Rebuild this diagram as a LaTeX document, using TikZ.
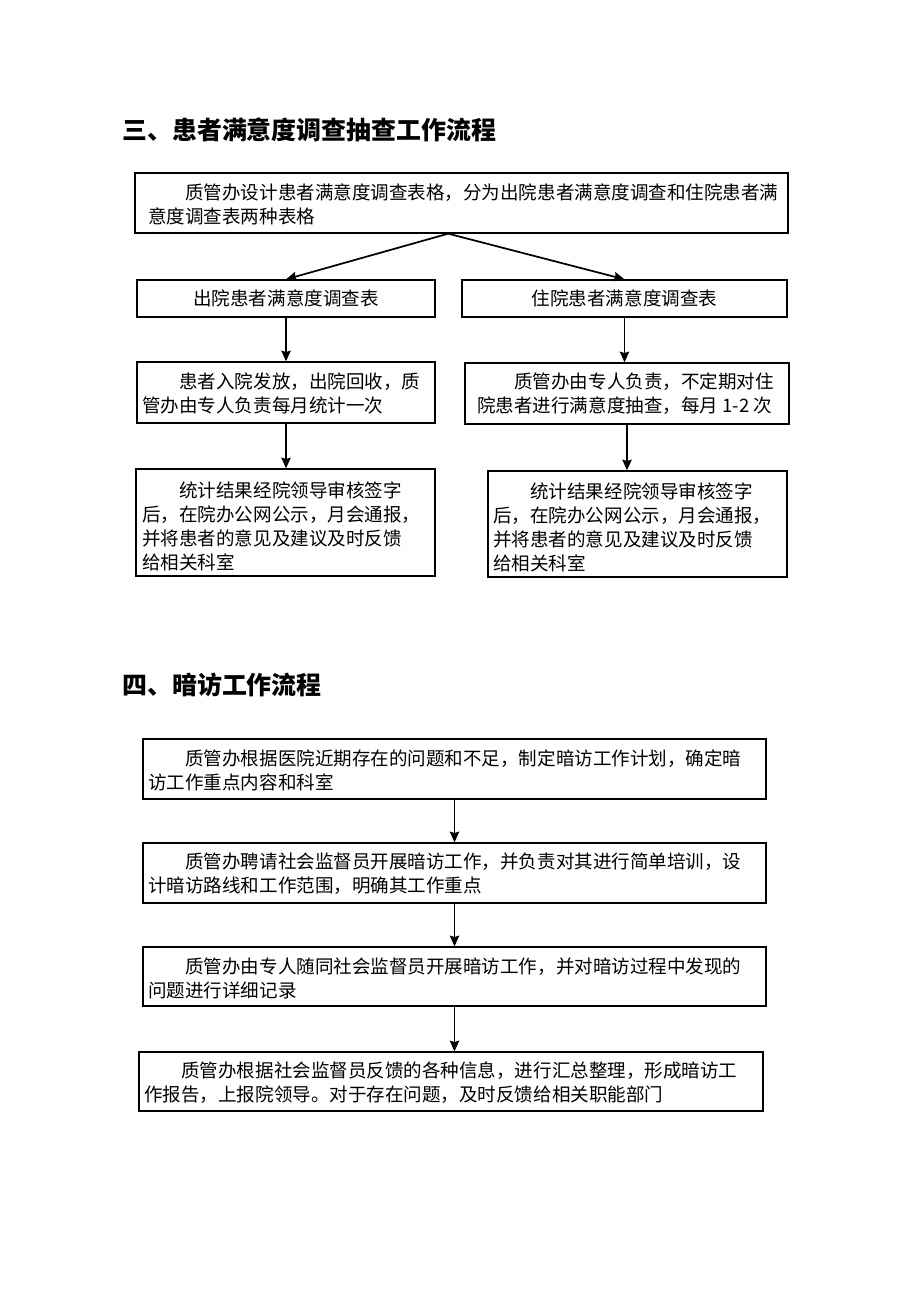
\documentclass[tikz,border=0pt]{standalone}
\usepackage{fontspec}
\setmainfont{Noto Sans CJK SC}
\usetikzlibrary{arrows.meta,calc}
\tikzset{
  box/.style={draw, line width=1pt, rectangle, inner sep=0pt},
  txt/.style={anchor=west, align=left, inner sep=0pt, font=\fontsize{13.9}{18}\selectfont},
  ctxt/.style={inner sep=0pt, font=\fontsize{13.9}{18}\selectfont},
  ttl/.style={anchor=west, inner sep=0pt, font=\fontsize{18.7}{22}\selectfont\bfseries},
  arr/.style={line width=1.3pt, -{Stealth[length=8pt,width=7pt,inset=1pt]}}
}
\begin{document}
\begin{tikzpicture}[x=0.75pt,y=-0.75pt]
\useasboundingbox[fill=white] (0,0) rectangle (920,1302);
% section 3
\node[ttl] (t1) at (122,130) {三、患者满意度调查抽查工作流程};
\node[box, minimum width=653*0.75pt, minimum height=60*0.75pt] (A) at (461.5,203) {};
\node[txt] (Atx) at (148,204) {\hspace*{2em}质管办设计患者满意度调查表格，分为出院患者满意度调查和住院患者满\\意度调查表两种表格};
\node[box, minimum width=298*0.75pt, minimum height=37*0.75pt] (B1) at (286,298.5) {};
\node[ctxt] at (B1) {出院患者满意度调查表};
\node[box, minimum width=325*0.75pt, minimum height=37*0.75pt] (B2) at (624.5,298.5) {};
\node[ctxt] at (B2) {住院患者满意度调查表};
\node[box, minimum width=298*0.75pt, minimum height=61*0.75pt] (C1) at (286,392.5) {};
\node[txt] at (142,393) {\hspace*{2em}患者入院发放，出院回收，质\\管办由专人负责每月统计一次};
\node[box, minimum width=324*0.75pt, minimum height=61*0.75pt] (C2) at (627,393.5) {};
\node[txt] at (477,394) {\hspace*{2em}质管办由专人负责，不定期对住\\院患者进行满意度抽查，每月 1-2 次};
\node[box, minimum width=299*0.75pt, minimum height=107*0.75pt] (D1) at (285.5,522.5) {};
\node[txt] at (142,526) {\hspace*{2em}统计结果经院领导审核签字\\后，在院办公网公示，月会通报，\\并将患者的意见及建议及时反馈\\给相关科室};
\node[box, minimum width=299*0.75pt, minimum height=106*0.75pt] (D2) at (637.5,524) {};
\node[txt] at (493,527) {\hspace*{2em}统计结果经院领导审核签字\\后，在院办公网公示，月会通报，\\并将患者的意见及建议及时反馈\\给相关科室};
\draw[arr] ([xshift=-10pt]A.south) -- (B1.north);
\draw[arr] ([xshift=-10pt]A.south) -- (B2.north);
\draw[arr] (B1.south) -- (C1.north);
\draw[arr] (B2.south) -- (B2.south |- C2.north);
\draw[arr] (C1.south) -- (C1.south |- D1.north);
\draw[arr] (C2.south) -- (C2.south |- D2.north);
% section 4
\node[ttl] (t2) at (122,685) {四、暗访工作流程};
\node[box, minimum width=623*0.75pt, minimum height=60*0.75pt] (E1) at (454.5,769) {};
\node[txt] at (148,770) {\hspace*{2em}质管办根据医院近期存在的问题和不足，制定暗访工作计划，确定暗\\访工作重点内容和科室};
\node[box, minimum width=623*0.75pt, minimum height=60*0.75pt] (E2) at (454.5,873) {};
\node[txt] at (148,874) {\hspace*{2em}质管办聘请社会监督员开展暗访工作，并负责对其进行简单培训，设\\计暗访路线和工作范围，明确其工作重点};
\node[box, minimum width=623*0.75pt, minimum height=59*0.75pt] (E3) at (454.5,976.5) {};
\node[txt] at (148,978) {\hspace*{2em}质管办由专人随同社会监督员开展暗访工作，并对暗访过程中发现的\\问题进行详细记录};
\node[box, minimum width=624*0.75pt, minimum height=59*0.75pt] (E4) at (451,1081.5) {};
\node[txt] at (144,1083) {\hspace*{2em}质管办根据社会监督员反馈的各种信息，进行汇总整理，形成暗访工\\作报告，上报院领导。对于存在问题，及时反馈给相关职能部门};
\draw[arr] (E1.south) -- (E2.north);
\draw[arr] (E2.south) -- (E3.north);
\draw[arr] (E3.south) -- (E3.south |- E4.north);
\end{tikzpicture}
\end{document}
